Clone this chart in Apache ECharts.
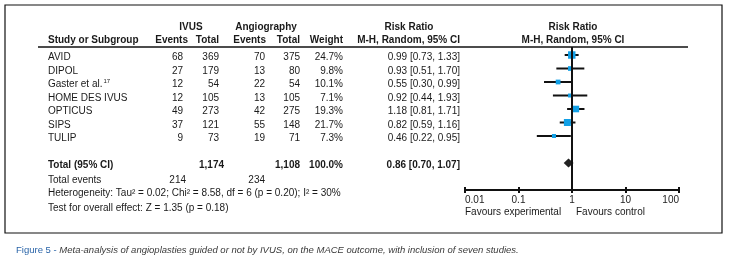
<!DOCTYPE html>
<html><head><meta charset="utf-8">
<script src="https://cdn.jsdelivr.net/npm/echarts@6/dist/echarts.min.js"></script>
<style>html,body{margin:0;padding:0;background:#fff}#c{width:729px;height:264px}</style>
</head><body><div id="c"></div>
<script>
var studies = ['AVID','DIPOL','Gaster et al.','HOME DES IVUS','OPTICUS','SIPS','TULIP'];
var ivusEvents = [68,27,12,12,49,37,9];
var ivusTotal = [369,179,54,105,273,121,73];
var angioEvents = [70,13,22,13,42,55,19];
var angioTotal = [375,80,54,105,275,148,71];
var weights = [24.7,9.8,10.1,7.1,19.3,21.7,7.3];
var rr = [0.99,0.93,0.55,0.92,1.18,0.82,0.46];
var rrLo = [0.73,0.51,0.30,0.44,0.81,0.59,0.22];
var rrHi = [1.33,1.70,0.99,1.93,1.71,1.16,0.95];
var totalIvus = '1,174', totalAngio = '1,108', totalWeight = '100.0%';
var totalRR = 0.86, totalLo = 0.70, totalHi = 1.07;
var totalEventsIvus = 214, totalEventsAngio = 234;
var tickLabels = ['0.01','0.1','1','10','100'];

var FONT = 'Liberation Sans, Arial, sans-serif';
var INK = '#1a1a1a';
var chart = echarts.init(document.getElementById('c'), null, {renderer:'canvas'});

var studyData = rr.map(function(v,i){ return [v, i, rrLo[i], rrHi[i], weights[i]]; });
var TOTAL_ROW = 8;

var option = {
  animation:false,
  grid:{left:465, right:50, top:47, bottom:74},
  xAxis:[{
    type:'log', logBase:10, min:0.01, max:100, position:'bottom',
    axisLine:{show:true, onZero:false, lineStyle:{color:'#111', width:2}},
    axisTick:{show:true, length:3, lineStyle:{color:'#111', width:2}},
    splitLine:{show:false},
    axisLabel:{show:true, fontFamily:FONT, fontSize:10, color:'#222', margin:5,
      alignMinLabel:'left', alignMaxLabel:'right',
      formatter:function(v){ var e=Math.round(Math.log10(v)); return tickLabels[e+2]; }}
  },{
    type:'log', logBase:10, min:0.01, max:100, position:'bottom',
    axisLine:{show:false, onZero:false},
    axisTick:{show:true, inside:true, length:3, lineStyle:{color:'#111', width:2}},
    axisLabel:{show:false}, splitLine:{show:false}
  }],
  yAxis:{type:'value', inverse:true, min:-0.593, max:10, show:false},
  series:[{
    type:'custom', xAxisIndex:0,
    data:studyData,
    encode:{x:[0,2,3], y:1},
    renderItem:function(params, api){
      var y = api.value(1);
      var pl = api.coord([api.value(2), y]);
      var ph = api.coord([api.value(3), y]);
      var pc = api.coord([api.value(0), y]);
      var s = 1.5*Math.sqrt(api.value(4));
      return {type:'group', children:[
        {type:'line', shape:{x1:pl[0], y1:pl[1], x2:ph[0], y2:ph[1]}, style:{stroke:'#111', lineWidth:2}},
        {type:'rect', shape:{x:pc[0]-s/2, y:pc[1]-s/2, width:s, height:s}, style:{fill:'#12a0e6'}}
      ]};
    },
    markLine:{silent:true, symbol:['none','none'], label:{show:false},
      lineStyle:{color:'#111', width:2, type:'solid'}, data:[{xAxis:1}]}
  },{
    type:'custom', xAxisIndex:0,
    data:[[totalRR, TOTAL_ROW, totalLo, totalHi]],
    encode:{x:[0,2,3], y:1},
    renderItem:function(params, api){
      var y = api.value(1);
      var pl = api.coord([api.value(2), y]);
      var ph = api.coord([api.value(3), y]);
      var pc = api.coord([api.value(0), y]);
      return {type:'polygon', shape:{points:[[pl[0],pl[1]],[pc[0],pc[1]-4.5],[ph[0],ph[1]],[pc[0],pc[1]+4.5]]},
        style:{fill:'#222'}};
    }
  }]
};
chart.setOption(option);

function rowY(r){ return chart.convertToPixel({yAxisIndex:0}, r) + 2.5; }
function T(x, y, text, opt){
  opt = opt || {};
  return {type:'text', x:x, y:y, silent:true, style:{
    text:text, fill:opt.color||INK, font:(opt.italic?'italic ':'')+(opt.bold?'bold ':'')+(opt.size||10)+'px '+FONT,
    textAlign:opt.align||'left', textVerticalAlign:'middle'}};
}
var g = [];
g.push({type:'rect', shape:{x:5, y:5, width:717, height:228}, style:{fill:'none', stroke:'#111', lineWidth:1.2}, silent:true});
g.push({type:'line', shape:{x1:38, y1:47, x2:688, y2:47}, style:{stroke:'#111', lineWidth:1.6}, silent:true});
var H1 = 27, H2 = 40;
var cEv1 = 183, cTot1 = 219, cEv2 = 265, cTot2 = 300, cW = 343, cRR = 460;
g.push(T(191, H1, 'IVUS', {bold:true, align:'center'}));
g.push(T(266, H1, 'Angiography', {bold:true, align:'center'}));
g.push(T(409, H1, 'Risk Ratio', {bold:true, align:'center'}));
g.push(T(573, H1, 'Risk Ratio', {bold:true, align:'center'}));
g.push(T(48, H2, 'Study or Subgroup', {bold:true}));
g.push(T(188, H2, 'Events', {bold:true, align:'right'}));
g.push(T(219, H2, 'Total', {bold:true, align:'right'}));
g.push(T(266, H2, 'Events', {bold:true, align:'right'}));
g.push(T(300, H2, 'Total', {bold:true, align:'right'}));
g.push(T(343, H2, 'Weight', {bold:true, align:'right'}));
g.push(T(cRR, H2, 'M-H, Random, 95% CI', {bold:true, align:'right'}));
g.push(T(573, H2, 'M-H, Random, 95% CI', {bold:true, align:'center'}));
function f2(v){ return v.toFixed(2); }
studies.forEach(function(s, i){
  var y = rowY(i);
  if (s.indexOf('Gaster') === 0) {
    g.push({type:'text', x:48, y:y, silent:true, style:{text:'{n|'+s+'}{s|17}', textVerticalAlign:'middle',
      rich:{n:{font:'10px '+FONT, fill:INK}, s:{font:'6px '+FONT, fill:INK, verticalAlign:'top', padding:[0,0,6,1]}}}});
  } else g.push(T(48, y, s));
  g.push(T(cEv1, y, String(ivusEvents[i]), {align:'right'}));
  g.push(T(cTot1, y, String(ivusTotal[i]), {align:'right'}));
  g.push(T(cEv2, y, String(angioEvents[i]), {align:'right'}));
  g.push(T(cTot2, y, String(angioTotal[i]), {align:'right'}));
  g.push(T(cW, y, weights[i].toFixed(1)+'%', {align:'right'}));
  g.push(T(cRR, y, f2(rr[i])+' ['+f2(rrLo[i])+', '+f2(rrHi[i])+']', {align:'right'}));
});
var yt = rowY(TOTAL_ROW);
g.push(T(48, yt, 'Total (95% CI)', {bold:true}));
g.push(T(224, yt, totalIvus, {bold:true, align:'right'}));
g.push(T(cTot2, yt, totalAngio, {bold:true, align:'right'}));
g.push(T(cW, yt, totalWeight, {bold:true, align:'right'}));
g.push(T(cRR, yt, f2(totalRR)+' ['+f2(totalLo)+', '+f2(totalHi)+']', {bold:true, align:'right'}));
g.push(T(48, 180, 'Total events'));
g.push(T(186, 180, String(totalEventsIvus), {align:'right'}));
g.push(T(cEv2, 180, String(totalEventsAngio), {align:'right'}));
g.push(T(48, 193.5, 'Heterogeneity: Tau\u00b2 = 0.02; Chi\u00b2 = 8.58, df = 6 (p = 0.20); I\u00b2 = 30%'));
g.push(T(48, 208, 'Test for overall effect: Z = 1.35 (p = 0.18)'));
g.push(T(465, 212.5, 'Favours experimental'));
g.push(T(576, 212.5, 'Favours control'));
g.push({type:'text', x:16, y:250, silent:true, style:{
  text:'{a|Figure 5 - }{b|Meta-analysis of angioplasties guided or not by IVUS, on the MACE outcome, with inclusion of seven studies.}',
  textVerticalAlign:'middle',
  rich:{a:{font:'9.5px '+FONT, fill:'#2a64a8'}, b:{font:'italic 9.5px '+FONT, fill:'#3a3a3a'}}}});
chart.setOption({graphic:{elements:g}});
</script></body></html>
